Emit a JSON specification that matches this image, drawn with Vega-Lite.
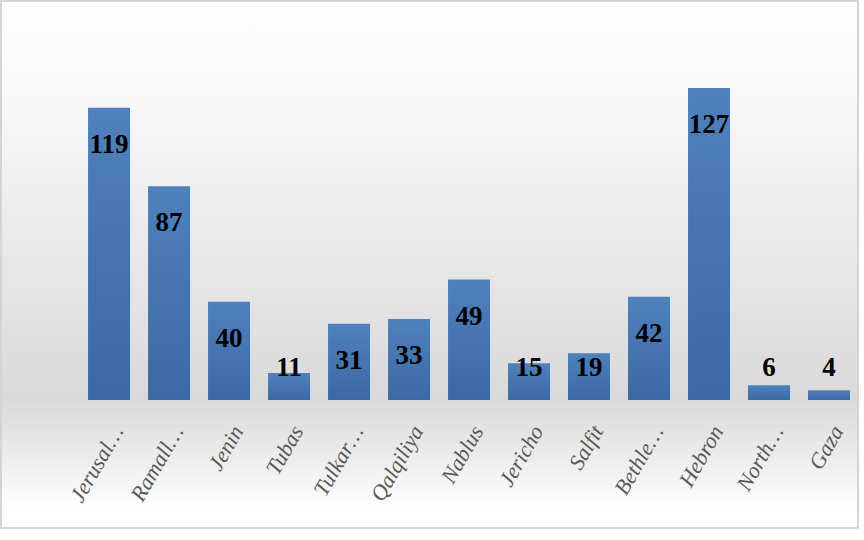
{
  "$schema": "https://vega.github.io/schema/vega-lite/v6.json",
  "width": 857,
  "height": 527,
  "autosize": "none",
  "padding": {"left": 1, "top": 1, "right": 6, "bottom": 12},
  "background": "#ffffff",
  "config": {
    "view": {
      "stroke": "#d4d4d4",
      "strokeWidth": 2,
      "fill": {
        "gradient": "linear",
        "x1": 0, "y1": 0, "x2": 0, "y2": 1,
        "stops": [
          {"offset": 0, "color": "#ffffff"},
          {"offset": 0.2, "color": "#f7f7f7"},
          {"offset": 0.757, "color": "#d9d9d9"},
          {"offset": 0.97, "color": "#ffffff"},
          {"offset": 1, "color": "#ffffff"}
        ]
      }
    }
  },
  "data": {
    "values": [
      {"district": "Jerusal…", "value": 119},
      {"district": "Ramall…", "value": 87},
      {"district": "Jenin", "value": 40},
      {"district": "Tubas", "value": 11},
      {"district": "Tulkar…", "value": 31},
      {"district": "Qalqiliya", "value": 33},
      {"district": "Nablus", "value": 49},
      {"district": "Jericho", "value": 15},
      {"district": "Salfit", "value": 19},
      {"district": "Bethle…", "value": 42},
      {"district": "Hebron", "value": 127},
      {"district": "North…", "value": 6},
      {"district": "Gaza", "value": 4}
    ]
  },
  "encoding": {
    "x": {
      "field": "district",
      "type": "nominal",
      "sort": null,
      "scale": {"paddingInner": 0.3, "paddingOuter": 0.792, "align": 0.916},
      "axis": {
        "title": null,
        "orient": "bottom",
        "offset": -128,
        "domain": false,
        "ticks": false,
        "grid": false,
        "labelAngle": -60,
        "labelPadding": 27,
        "labelOffset": 9,
        "labelFont": "Liberation Serif",
        "labelFontStyle": "italic",
        "labelFontSize": 22,
        "labelColor": "#595959",
        "labelLimit": 200
      }
    }
  },
  "layer": [
    {
      "mark": {
        "type": "bar",
        "color": {
          "gradient": "linear",
          "x1": 0, "y1": 0, "x2": 0, "y2": 1,
          "stops": [
            {"offset": 0, "color": "#4f81bd"},
            {"offset": 1, "color": "#3b69a3"}
          ]
        }
      },
      "encoding": {
        "y": {
          "field": "value",
          "type": "quantitative",
          "scale": {"domain": [-52.1, 162.4], "nice": false, "zero": false},
          "axis": null
        }
      }
    },
    {
      "transform": [{"filter": "datum.value >= 28"}],
      "mark": {
        "type": "text",
        "baseline": "middle",
        "align": "center",
        "dy": 37,
        "font": "Liberation Serif",
        "fontWeight": "bold",
        "fontSize": 27,
        "color": "#000000"
      },
      "encoding": {
        "y": {"field": "value", "type": "quantitative"},
        "text": {"field": "value", "type": "quantitative"}
      }
    },
    {
      "transform": [{"filter": "datum.value < 28"}],
      "mark": {
        "type": "text",
        "baseline": "middle",
        "align": "center",
        "dy": -32,
        "font": "Liberation Serif",
        "fontWeight": "bold",
        "fontSize": 27,
        "color": "#000000"
      },
      "encoding": {
        "y": {"datum": 0, "type": "quantitative"},
        "text": {"field": "value", "type": "quantitative"}
      }
    }
  ]
}
